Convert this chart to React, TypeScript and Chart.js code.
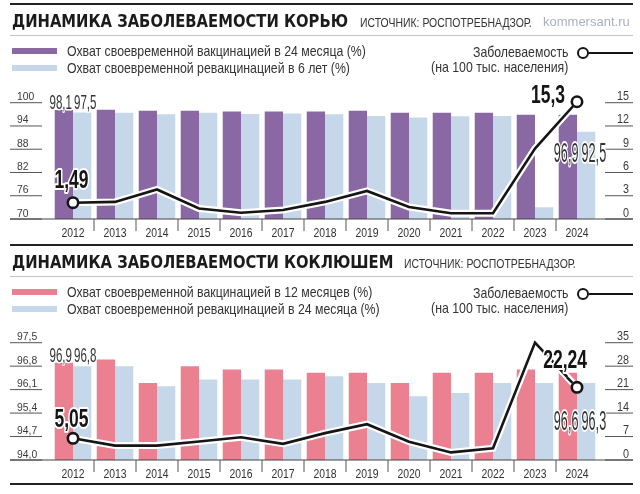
import React, { useEffect, useRef } from "react";
import { Chart, registerables } from "chart.js";

Chart.register(...registerables);

// ---------- DATA ----------
const YEARS = ["2012", "2013", "2014", "2015", "2016", "2017", "2018", "2019", "2020", "2021", "2022", "2023", "2024"];

// Measles (корь)
const MEASLES_VAC_24M = [98.1, 98.2, 97.9, 97.9, 97.7, 97.7, 97.7, 97.9, 97.4, 97.4, 97.4, 96.9, 96.9];
const MEASLES_REVAC_6Y = [97.5, 97.4, 97.0, 97.4, 97.1, 97.2, 97.0, 96.6, 96.2, 96.5, 96.6, 73.0, 92.5];
const MEASLES_INCIDENCE = [1.49, 1.6, 3.3, 0.7, 0.12, 0.5, 1.6, 3.1, 0.9, 0.04, 0.06, 8.9, 15.3];
const MEASLES_LEFT_TICKS = [70, 76, 82, 88, 94, 100];
const MEASLES_RIGHT_TICKS = [0, 3, 6, 9, 12, 15];

// Pertussis (коклюш)
const PERTUSSIS_VAC_12M = [96.9, 97.0, 96.3, 96.8, 96.7, 96.7, 96.6, 96.6, 96.3, 96.6, 96.6, 96.7, 96.6];
const PERTUSSIS_REVAC_24M = [96.8, 96.8, 96.2, 96.4, 96.4, 96.4, 96.5, 96.3, 95.9, 96.0, 96.3, 96.3, 96.3];
const PERTUSSIS_INCIDENCE = [5.05, 2.6, 2.6, 4.0, 5.4, 3.2, 6.8, 9.8, 3.9, 0.3, 1.7, 37.3, 22.24];
const PERTUSSIS_LEFT_TICKS = [94.0, 94.7, 95.4, 96.1, 96.8, 97.5];
const PERTUSSIS_RIGHT_TICKS = [0, 7, 14, 21, 28, 35];

const PURPLE = "#8a68a4";
const LIGHT_BLUE = "#c7d7ea";
const PINK = "#ea8090";
const INK = "#151515";

const FONT = '"Liberation Sans", Arial, sans-serif';
const TITLE_FONT = '"DejaVu Sans", "Liberation Sans", Arial, sans-serif';

type TextOpts = { size: number; bold?: boolean; sx?: number; align?: CanvasTextAlign; color?: string; halo?: number };

function drawText(ctx: CanvasRenderingContext2D, s: string, x: number, y: number, o: TextOpts) {
  ctx.save();
  ctx.translate(x, y);
  ctx.scale(o.sx ?? 1, 1);
  ctx.font = `${o.bold ? "bold " : ""}${o.size}px ${FONT}`;
  ctx.textAlign = o.align ?? "left";
  ctx.textBaseline = "alphabetic";
  if (o.halo) {
    ctx.lineJoin = "round";
    ctx.lineWidth = o.halo;
    ctx.strokeStyle = "#fff";
    ctx.strokeText(s, 0, 0);
  }
  ctx.fillStyle = o.color ?? "#333";
  ctx.fillText(s, 0, 0);
  ctx.restore();
}

function seg(ctx: CanvasRenderingContext2D, x1: number, y1: number, x2: number, y2: number, color: string, w: number) {
  ctx.save();
  ctx.strokeStyle = color;
  ctx.lineWidth = w;
  ctx.lineCap = "butt";
  ctx.beginPath();
  ctx.moveTo(x1, y1);
  ctx.lineTo(x2, y2);
  ctx.stroke();
  ctx.restore();
}

const comma = (v: number, d?: number) => (d === undefined ? String(v) : v.toFixed(d)).replace(".", ",");

interface PanelProps {
  top: number;
  height: number;
  padTop: number;
  padBottom: number;
  yMin: number;
  yMax: number;
  rMax: number;
  lMin: number;
  lMax: number;
  vac: number[];
  revac: number[];
  incidence: number[];
  leftTicks: number[];
  rightTicks: number[];
  leftDigits: number;
  vacColor: string;
  revacColor: string;
  lastBarLabelRise: number;
  firstLabelDy: number;
  lastLabelMode: "left" | "above";
}

function Panel(p: PanelProps) {
  const ref = useRef<HTMLCanvasElement>(null);
  useEffect(() => {
    const canvas = ref.current!;
    const n = YEARS.length;
    const overlay = {
      id: "overlay",
      beforeDatasetDraw(chart: any, args: any) {
        if (args.index !== 2) return;
        const pts = args.meta.data;
        const ctx: CanvasRenderingContext2D = chart.ctx;
        ctx.save();
        ctx.strokeStyle = "#fff";
        ctx.lineWidth = 7;
        ctx.lineJoin = "miter";
        ctx.beginPath();
        pts.forEach((pt: any, i: number) => (i ? ctx.lineTo(pt.x, pt.y) : ctx.moveTo(pt.x, pt.y)));
        ctx.stroke();
        ctx.restore();
      },
      afterDatasetsDraw(chart: any) {
        const ctx: CanvasRenderingContext2D = chart.ctx;
        const xs = chart.scales.x;
        const ys = chart.scales.y;
        const yr = chart.scales.yR;
        const base = ys.getPixelForValue(p.leftTicks[0]);

        p.leftTicks.forEach((v) => {
          const py = ys.getPixelForValue(v);
          seg(ctx, 10, py, 42, py, "#555", 1);
          drawText(ctx, comma(v, p.leftDigits), 17, py - 2.5, { size: 11.5, sx: 0.9, color: "#3a3a3a" });
        });
        p.rightTicks.forEach((v) => {
          const py = yr.getPixelForValue(v);
          seg(ctx, 605, py, 633, py, "#555", 1);
          drawText(ctx, String(v), 629, py - 2.5, { size: 12, sx: 0.9, align: "right", color: "#3a3a3a" });
        });
        seg(ctx, 10, base, 633, base, "#444", 1.2);
        for (let i = 1; i < n; i++) {
          const bx = (xs.getPixelForValue(i - 1) + xs.getPixelForValue(i)) / 2;
          seg(ctx, bx, base, bx, base + 12, "#555", 1);
        }
        YEARS.forEach((yl, i) =>
          drawText(ctx, yl, xs.getPixelForValue(i), base + 18, { size: 13, sx: 0.8, align: "center", color: "#333" })
        );

        const m0 = chart.getDatasetMeta(0).data as any[];
        const m1 = chart.getDatasetMeta(1).data as any[];
        const mL = chart.getDatasetMeta(2).data as any[];
        const gapAt = (i: number) => (m0[i].x + m0[i].width / 2 + m1[i].x - m1[i].width / 2) / 2;

        const g0 = gapAt(0);
        const t0 = Math.min(m0[0].y, m1[0].y) - 1;
        drawText(ctx, comma(p.vac[0], 1), g0 - 1, t0, { size: 21, sx: 0.55, align: "right", halo: 3 });
        drawText(ctx, comma(p.revac[0], 1), g0 + 1, t0, { size: 21, sx: 0.55, align: "left", halo: 3 });

        const gl = gapAt(n - 1);
        const ly = base - p.lastBarLabelRise;
        drawText(ctx, comma(p.vac[n - 1], 1), gl + 1.5, ly, { size: 27, sx: 0.47, align: "right", halo: 4 });
        drawText(ctx, comma(p.revac[n - 1], 1), gl + 4.5, ly, { size: 27, sx: 0.47, align: "left", halo: 4 });

        const a = mL[0];
        drawText(ctx, comma(p.incidence[0]), a.x - 1.5, a.y - p.firstLabelDy, {
          size: 25, bold: true, sx: 0.7, align: "center", color: INK, halo: 4,
        });
        const z = mL[n - 1];
        const zs = comma(p.incidence[n - 1]);
        if (p.lastLabelMode === "left") {
          drawText(ctx, zs, z.x - 12, z.y + 1.5, { size: 25, bold: true, sx: 0.7, align: "right", color: INK, halo: 4 });
        } else {
          drawText(ctx, zs, z.x + 10, z.y - 19, { size: 25, bold: true, sx: 0.7, align: "right", color: INK, halo: 4 });
          seg(ctx, z.x - 10, z.y - 10, z.x - 4.5, z.y - 4.5, "#fff", 6);
          seg(ctx, z.x - 10, z.y - 10, z.x - 4.5, z.y - 4.5, INK, 2.5);
        }
      },
    };

    const chart = new Chart(canvas, {
      type: "bar",
      data: {
        labels: YEARS,
        datasets: [
          {
            type: "bar",
            data: p.vac,
            backgroundColor: p.vacColor,
            yAxisID: "y",
            order: 1,
            categoryPercentage: 0.87,
            barPercentage: 1,
            borderWidth: 0,
          },
          {
            type: "bar",
            data: p.revac,
            backgroundColor: p.revacColor,
            yAxisID: "y",
            order: 2,
            categoryPercentage: 0.87,
            barPercentage: 1,
            borderWidth: 0,
          },
          {
            type: "line",
            data: p.incidence,
            yAxisID: "yL",
            order: 0,
            borderColor: INK,
            borderWidth: 2.6,
            tension: 0,
            fill: false,
            clip: false,
            pointRadius: p.incidence.map((_, i) => (i === 0 || i === n - 1 ? 5.2 : 0)),
            pointBackgroundColor: "#fff",
            pointBorderColor: INK,
            pointBorderWidth: 2.6,
          },
        ] as any,
      },
      options: {
        responsive: false,
        animation: false,
        events: [],
        layout: { padding: { left: 52, right: 42, top: p.padTop, bottom: p.padBottom } },
        plugins: { legend: { display: false }, tooltip: { enabled: false } },
        scales: {
          x: { display: false, offset: true, grid: { display: false } },
          y: { display: false, min: p.yMin, max: p.yMax },
          yR: { display: false, position: "right", min: 0, max: p.rMax },
          yL: { display: false, min: p.lMin, max: p.lMax },
        },
      } as any,
      plugins: [overlay],
    });
    return () => chart.destroy();
  }, []);
  return (
    <canvas
      ref={ref}
      width={640}
      height={p.height}
      style={{ position: "absolute", left: 0, top: p.top, width: 640, height: p.height }}
    />
  );
}

const abs = (s: React.CSSProperties): React.CSSProperties => ({ position: "absolute", whiteSpace: "nowrap", ...s });

function Header(props: { y: number; title: string; sourceX: number; site: boolean; c1: string; c2: string; l1: string; l2: string }) {
  const { y } = props;
  const legendText: React.CSSProperties = {
    fontSize: 15,
    lineHeight: "16px",
    color: "#333",
    transform: "scaleX(0.82)",
  };
  return (
    <>
      <div
        style={abs({
          left: 12, top: y + 11, fontSize: 17, lineHeight: "20px", fontWeight: "bold", color: "#1b1b1b",
          fontFamily: TITLE_FONT, transform: "scaleX(0.87)", transformOrigin: "left center",
        })}
      >
        {props.title}
      </div>
      <div
        style={abs({
          left: props.sourceX, top: y + 15.5, fontSize: 12, lineHeight: "14px", color: "#333",
          transform: "scaleX(0.87)", transformOrigin: "left center",
        })}
      >
        ИСТОЧНИК: РОСПОТРЕБНАДЗОР.
      </div>
      {props.site && (
        <div style={abs({ left: 543, top: y + 15, fontSize: 13, lineHeight: "14px", color: "#a9b1c0" })}>kommersant.ru</div>
      )}
      <div style={abs({ left: 10, top: y + 34.5, width: 623, height: 1.5, background: "#c4c4c4" })} />
      <div style={abs({ left: 12, top: y + 48, width: 45, height: 5.5, background: props.c1 })} />
      <div style={abs({ left: 12, top: y + 65, width: 45, height: 5.5, background: props.c2 })} />
      <div style={abs({ left: 67, top: y + 42.5, transformOrigin: "left center", ...legendText })}>{props.l1}</div>
      <div style={abs({ left: 67, top: y + 59.5, transformOrigin: "left center", ...legendText })}>{props.l2}</div>
      <div style={abs({ right: 72, top: y + 44, transformOrigin: "right center", ...legendText })}>Заболеваемость</div>
      <div style={abs({ right: 72, top: y + 59, transformOrigin: "right center", ...legendText })}>
        (на 100 тыс. населения)
      </div>
      <div
        style={abs({
          left: 577, top: y + 47, width: 12, height: 12, boxSizing: "border-box",
          border: `2.6px solid ${INK}`, borderRadius: "50%", background: "#fff",
        })}
      />
      <div style={abs({ left: 589, top: y + 51.75, width: 44, height: 2.5, background: INK })} />
    </>
  );
}

export default function App() {
  return (
    <div
      style={{
        position: "absolute", left: 0, top: 0, width: 640, height: 494, background: "#fff",
        fontFamily: FONT, overflow: "hidden",
      }}
    >
      <Panel
        top={0}
        height={244}
        padTop={87.2}
        padBottom={25}
        yMin={70}
        yMax={104}
        rMax={17}
        lMin={-0.739}
        lMax={17.29}
        vac={MEASLES_VAC_24M}
        revac={MEASLES_REVAC_6Y}
        incidence={MEASLES_INCIDENCE}
        leftTicks={MEASLES_LEFT_TICKS}
        rightTicks={MEASLES_RIGHT_TICKS}
        leftDigits={0}
        vacColor={PURPLE}
        revacColor={LIGHT_BLUE}
        lastBarLabelRise={57}
        firstLabelDy={14.5}
        lastLabelMode="left"
      />
      <Panel
        top={244}
        height={250}
        padTop={85.3}
        padBottom={34}
        yMin={94}
        yMax={97.9}
        rMax={39}
        lMin={-2.258}
        lMax={41.79}
        vac={PERTUSSIS_VAC_12M}
        revac={PERTUSSIS_REVAC_24M}
        incidence={PERTUSSIS_INCIDENCE}
        leftTicks={PERTUSSIS_LEFT_TICKS}
        rightTicks={PERTUSSIS_RIGHT_TICKS}
        leftDigits={1}
        vacColor={PINK}
        revacColor={LIGHT_BLUE}
        lastBarLabelRise={30}
        firstLabelDy={11.5}
        lastLabelMode="above"
      />
      <div style={abs({ left: 10, top: 3.3, width: 623, height: 2.2, background: "#222" })} />
      <div style={abs({ left: 10, top: 243.5, width: 623, height: 2.5, background: "#222" })} />
      <div style={abs({ left: 10, top: 482.5, width: 623, height: 2.5, background: "#222" })} />
      <Header
        y={0}
        title="ДИНАМИКА ЗАБОЛЕВАЕМОСТИ КОРЬЮ"
        sourceX={360}
        site={true}
        c1={PURPLE}
        c2={LIGHT_BLUE}
        l1="Охват своевременной вакцинацией в 24 месяца (%)"
        l2="Охват своевременной ревакцинацией в 6 лет (%)"
      />
      <Header
        y={241}
        title="ДИНАМИКА ЗАБОЛЕВАЕМОСТИ КОКЛЮШЕМ"
        sourceX={404}
        site={false}
        c1={PINK}
        c2={LIGHT_BLUE}
        l1="Охват своевременной вакцинацией в 12 месяцев (%)"
        l2="Охват своевременной ревакцинацией в 24 месяца (%)"
      />
    </div>
  );
}
